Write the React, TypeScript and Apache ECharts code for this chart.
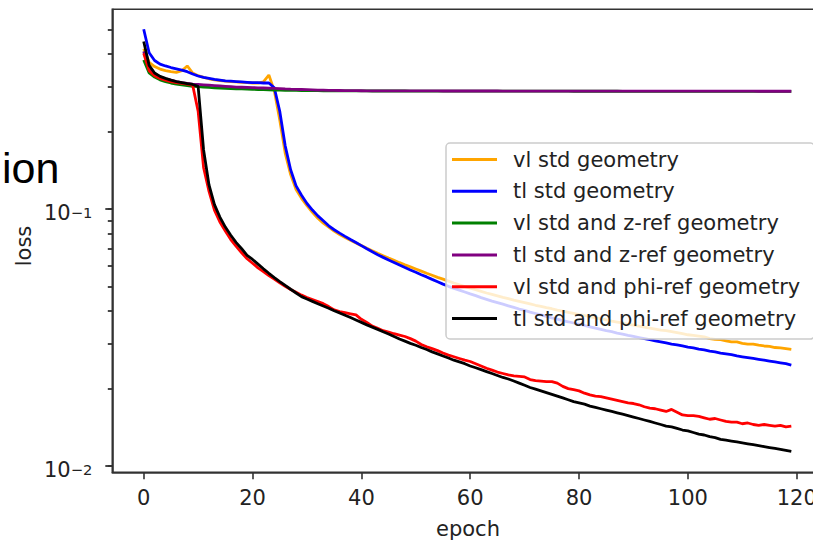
import React, { useEffect, useRef } from 'react';
import * as echarts from 'echarts';

// epochs 0..119
const epochs = Array.from({ length: 120 }, (_, i) => i);

const vlStd = [
  0.420, 0.372, 0.358, 0.350, 0.345, 0.342, 0.340, 0.345, 0.360, 0.338,
  0.330, 0.325, 0.321, 0.318, 0.316, 0.314, 0.313, 0.312, 0.311, 0.310,
  0.309, 0.309, 0.312, 0.332, 0.288, 0.222, 0.165, 0.136, 0.119, 0.110,
  0.103, 0.097, 0.092, 0.088, 0.085, 0.082, 0.0795, 0.0775, 0.0755, 0.0737,
  0.0720, 0.0703, 0.0687, 0.0672, 0.0658, 0.0644, 0.0631, 0.0618, 0.0606, 0.0595,
  0.0584, 0.0573, 0.0562, 0.0552, 0.0542, 0.0533, 0.0524, 0.0515, 0.0507, 0.0499,
  0.0492, 0.0485, 0.0478, 0.0471, 0.0465, 0.0459, 0.0453, 0.0448, 0.0442, 0.0437,
  0.0432, 0.0427, 0.0422, 0.0418, 0.0413, 0.0409, 0.0404, 0.0400, 0.0396, 0.0392,
  0.0388, 0.0385, 0.0381, 0.0377, 0.0374, 0.0370, 0.0366, 0.0363, 0.0360, 0.0356,
  0.0353, 0.0350, 0.0347, 0.0344, 0.0341, 0.0338, 0.0336, 0.0333, 0.0330, 0.0327,
  0.0324, 0.0322, 0.0320, 0.0318, 0.0313, 0.0311, 0.0310, 0.0307, 0.0304, 0.0304,
  0.0300, 0.0298, 0.0298, 0.0295, 0.0293, 0.0292, 0.0289, 0.0288, 0.0286, 0.0284,
];

const tlStd = [
  0.500, 0.405, 0.378, 0.366, 0.360, 0.355, 0.351, 0.347, 0.342, 0.335,
  0.329, 0.325, 0.322, 0.319, 0.317, 0.315, 0.314, 0.313, 0.312, 0.311,
  0.310, 0.310, 0.309, 0.309, 0.296, 0.240, 0.176, 0.142, 0.123, 0.113,
  0.105, 0.099, 0.094, 0.090, 0.086, 0.083, 0.0805, 0.0782, 0.0760, 0.0740,
  0.0720, 0.0700, 0.0681, 0.0664, 0.0648, 0.0633, 0.0619, 0.0605, 0.0592, 0.0579,
  0.0567, 0.0555, 0.0544, 0.0532, 0.0521, 0.0510, 0.0500, 0.0491, 0.0483, 0.0475,
  0.0467, 0.0460, 0.0452, 0.0445, 0.0438, 0.0432, 0.0426, 0.0420, 0.0414, 0.0408,
  0.0403, 0.0397, 0.0392, 0.0387, 0.0382, 0.0377, 0.0373, 0.0368, 0.0364, 0.0360,
  0.0356, 0.0352, 0.0348, 0.0344, 0.0340, 0.0336, 0.0333, 0.0329, 0.0326, 0.0322,
  0.0319, 0.0316, 0.0313, 0.0310, 0.0307, 0.0304, 0.0301, 0.0298, 0.0296, 0.0293,
  0.0290, 0.0288, 0.0285, 0.0283, 0.0280, 0.0278, 0.0275, 0.0273, 0.0271, 0.0268,
  0.0266, 0.0264, 0.0262, 0.0260, 0.0258, 0.0256, 0.0254, 0.0252, 0.0250, 0.0247,
];

const vlStdZ = [
  0.380, 0.338, 0.326, 0.318, 0.313, 0.309, 0.306, 0.304, 0.302, 0.300,
  0.299, 0.298, 0.297, 0.296, 0.295, 0.2945, 0.294, 0.2935, 0.293, 0.2925,
  0.292, 0.2915, 0.291, 0.2905, 0.290, 0.2898, 0.2895, 0.2893, 0.289, 0.2888,
  0.2886, 0.2885, 0.2884, 0.2883, 0.2882, 0.2881, 0.2880, 0.2880, 0.2879, 0.2879,
  0.2878, 0.2878, 0.2877, 0.2877, 0.2877, 0.2876, 0.2876, 0.2876, 0.2876, 0.2875,
  0.2875, 0.2875, 0.2875, 0.2874, 0.2874, 0.2874, 0.2874, 0.2874, 0.2873, 0.2873,
  0.2873, 0.2873, 0.2873, 0.2873, 0.2872, 0.2872, 0.2872, 0.2872, 0.2872, 0.2872,
  0.2872, 0.2871, 0.2871, 0.2871, 0.2871, 0.2871, 0.2871, 0.2871, 0.2871, 0.2870,
  0.2870, 0.2870, 0.2870, 0.2870, 0.2870, 0.2870, 0.2870, 0.2870, 0.2869, 0.2869,
  0.2869, 0.2869, 0.2869, 0.2869, 0.2869, 0.2869, 0.2869, 0.2869, 0.2868, 0.2868,
  0.2868, 0.2868, 0.2868, 0.2868, 0.2868, 0.2868, 0.2868, 0.2868, 0.2868, 0.2868,
  0.2867, 0.2867, 0.2867, 0.2867, 0.2867, 0.2867, 0.2867, 0.2867, 0.2867, 0.2867,
];

const tlStdZ = [
  0.410, 0.352, 0.336, 0.327, 0.321, 0.317, 0.313, 0.310, 0.308, 0.306,
  0.305, 0.304, 0.303, 0.302, 0.301, 0.300, 0.299, 0.298, 0.2975, 0.297,
  0.2965, 0.296, 0.2955, 0.295, 0.2945, 0.294, 0.2932, 0.2925, 0.292, 0.2915,
  0.291, 0.2905, 0.290, 0.2897, 0.2894, 0.2891, 0.2889, 0.2887, 0.2885, 0.2884,
  0.2883, 0.2882, 0.2882, 0.2881, 0.2881, 0.2880, 0.2880, 0.2880, 0.2879, 0.2879,
  0.2879, 0.2878, 0.2878, 0.2878, 0.2878, 0.2877, 0.2877, 0.2877, 0.2877, 0.2877,
  0.2876, 0.2876, 0.2876, 0.2876, 0.2876, 0.2876, 0.2875, 0.2875, 0.2875, 0.2875,
  0.2875, 0.2875, 0.2875, 0.2874, 0.2874, 0.2874, 0.2874, 0.2874, 0.2874, 0.2874,
  0.2874, 0.2873, 0.2873, 0.2873, 0.2873, 0.2873, 0.2873, 0.2873, 0.2873, 0.2873,
  0.2872, 0.2872, 0.2872, 0.2872, 0.2872, 0.2872, 0.2872, 0.2872, 0.2872, 0.2872,
  0.2872, 0.2871, 0.2871, 0.2871, 0.2871, 0.2871, 0.2871, 0.2871, 0.2871, 0.2871,
  0.2871, 0.2871, 0.2871, 0.2870, 0.2870, 0.2870, 0.2870, 0.2870, 0.2870, 0.2870,
];

const vlStdPhi = [
  0.403, 0.345, 0.330, 0.322, 0.317, 0.313, 0.310, 0.308, 0.306, 0.303,
  0.240, 0.145, 0.117, 0.099, 0.089, 0.082, 0.076, 0.0715, 0.0675, 0.064,
  0.0615, 0.059, 0.057, 0.055, 0.0533, 0.0516, 0.0500, 0.0486, 0.0474, 0.0462,
  0.0452, 0.0444, 0.0436, 0.0428, 0.0417, 0.0405, 0.0399, 0.0395, 0.0391, 0.0387,
  0.0372, 0.0362, 0.0350, 0.0343, 0.0336, 0.0332, 0.0327, 0.0323, 0.0319, 0.0313,
  0.0306, 0.0297, 0.0291, 0.0286, 0.0281, 0.0275, 0.0270, 0.0266, 0.0262, 0.0258,
  0.0255, 0.0250, 0.0245, 0.0240, 0.0236, 0.0232, 0.0229, 0.0226, 0.0224, 0.0223,
  0.0222, 0.0217, 0.0215, 0.0214, 0.0213, 0.0213, 0.0210, 0.0204, 0.0200, 0.0198,
  0.0196, 0.0192, 0.0189, 0.0187, 0.0186, 0.0184, 0.0182, 0.0180, 0.0178, 0.0176,
  0.0175, 0.0173, 0.0170, 0.0168, 0.0167, 0.0165, 0.0163, 0.0166, 0.0162, 0.0158,
  0.0157, 0.0157, 0.0156, 0.0154, 0.0152, 0.0153, 0.0151, 0.0149, 0.0148, 0.0148,
  0.0146, 0.0147, 0.0145, 0.0144, 0.0145, 0.0144, 0.0143, 0.0144, 0.0142, 0.0143,
];

const tlStdPhi = [
  0.448, 0.362, 0.338, 0.328, 0.322, 0.317, 0.313, 0.310, 0.307, 0.305,
  0.300, 0.170, 0.124, 0.104, 0.093, 0.085, 0.079, 0.074, 0.070, 0.066,
  0.0636, 0.0610, 0.0585, 0.0562, 0.0541, 0.0522, 0.0504, 0.0487, 0.0471, 0.0456,
  0.0446, 0.0437, 0.0428, 0.0419, 0.0411, 0.0402, 0.0394, 0.0386, 0.0378, 0.0370,
  0.0362, 0.0354, 0.0347, 0.0340, 0.0333, 0.0326, 0.0319, 0.0312, 0.0306, 0.0300,
  0.0295, 0.0289, 0.0284, 0.0278, 0.0273, 0.0268, 0.0263, 0.0258, 0.0254, 0.0250,
  0.0245, 0.0241, 0.0237, 0.0233, 0.0229, 0.0225, 0.0221, 0.0218, 0.0214, 0.0210,
  0.0206, 0.0202, 0.0199, 0.0196, 0.0193, 0.0190, 0.0187, 0.0184, 0.0181, 0.0178,
  0.0176, 0.0174, 0.0171, 0.0169, 0.0167, 0.0165, 0.0163, 0.0161, 0.0159, 0.0157,
  0.0155, 0.0153, 0.0151, 0.0149, 0.0147, 0.0145, 0.0143, 0.0142, 0.0140, 0.0138,
  0.0137, 0.0135, 0.0133, 0.0132, 0.0130, 0.0129, 0.0127, 0.0126, 0.0125, 0.0124,
  0.0123, 0.0122, 0.0121, 0.0120, 0.0119, 0.0118, 0.0117, 0.0116, 0.0115, 0.0114,
];

const seriesNames = [
  'vl std geometry',
  'tl std geometry',
  'vl std and z-ref geometry',
  'tl std and z-ref geometry',
  'vl std and phi-ref geometry',
  'tl std and phi-ref geometry',
];
const seriesValues = [vlStd, tlStd, vlStdZ, tlStdZ, vlStdPhi, tlStdPhi];
const seriesColors = ['#FFA500', '#0000FF', '#008000', '#800080', '#FF0000', '#000000'];

const xTickValues = [0, 20, 40, 60, 80, 100, 120];
const yMajorTicks = [0.01, 0.1];
const yMinorTicks = [0.02, 0.03, 0.04, 0.05, 0.06, 0.07, 0.08, 0.09, 0.2, 0.3, 0.4, 0.5];

const X_MIN = -5.77;
const X_MAX = 124.95;
const Y_MIN = 0.00945;
const Y_MAX = 0.598;

const FONT = 'DejaVu Sans';
const TEXT = '#222222';
const AXIS = '#333333';

// helper axis (linear in log10 space, same extent as the log axis) that only carries tick marks
const tickAxis = (values: number[], len: number, width: number) => ({
  type: 'value',
  gridIndex: 0,
  position: 'left',
  offset: 0,
  min: Math.log10(Y_MIN),
  max: Math.log10(Y_MAX),
  axisLine: { show: false, onZero: false },
  axisLabel: { show: false },
  splitLine: { show: false },
  axisTick: {
    show: true,
    inside: false,
    length: len,
    customValues: values.map((v) => Math.log10(v)),
    lineStyle: { color: AXIS, width },
  },
});

export default function App() {
  const ref = useRef<HTMLDivElement>(null);

  useEffect(() => {
    if (!ref.current) return;
    const chart = echarts.init(ref.current, null, { renderer: 'svg' });

    const lineSeries = seriesValues.map((arr, k) => ({
      name: seriesNames[k],
      type: 'line',
      yAxisIndex: 0,
      data: epochs.map((e, i) => [e, arr[i]]),
      showSymbol: false,
      symbol: 'none',
      lineStyle: { color: seriesColors[k], width: 2.8 },
      itemStyle: { color: seriesColors[k] },
      emphasis: { disabled: true },
    }));

    chart.setOption({
      animation: false,
      backgroundColor: '#ffffff',
      grid: {
        left: 112.3,
        top: 9.3,
        right: -10.7,
        bottom: 68.7,
        outerBoundsMode: 'none',
        containLabel: false,
        show: true,
        borderColor: AXIS,
        borderWidth: 1.6,
        backgroundColor: 'transparent',
      },
      xAxis: {
        type: 'value',
        min: X_MIN,
        max: X_MAX,
        name: 'epoch',
        nameLocation: 'middle',
        nameGap: 46,
        nameTextStyle: { fontFamily: FONT, fontSize: 21, color: TEXT },
        axisLine: { show: true, onZero: false, lineStyle: { color: AXIS, width: 1.6 } },
        axisTick: { show: true, length: 7, customValues: xTickValues, lineStyle: { color: AXIS, width: 1.6 } },
        axisLabel: { customValues: xTickValues, fontFamily: FONT, fontSize: 21, color: TEXT, margin: 15 },
        splitLine: { show: false },
      },
      yAxis: [
        {
          type: 'log',
          logBase: 10,
          min: Y_MIN,
          max: Y_MAX,
          position: 'left',
          axisLine: { show: true, onZero: false, lineStyle: { color: AXIS, width: 1.6 } },
          axisTick: { show: false },
          minorTick: { show: false },
          splitLine: { show: false },
          axisLabel: {
            margin: 20,
            formatter: (v: number) => {
              const l = Math.log10(v);
              const r = Math.round(l);
              if (Math.abs(l - r) > 1e-6) return '';
              return `{b|10}{s|\u2212${-r}}`;
            },
            rich: {
              b: { fontFamily: FONT, fontSize: 21, color: TEXT, lineHeight: 24, padding: [8, 0, 0, 0] },
              s: { fontFamily: FONT, fontSize: 14.7, color: TEXT, lineHeight: 15, verticalAlign: 'top', padding: [8, 0, 0, 0] },
            },
          },
        },
        tickAxis([...yMajorTicks, ...yMinorTicks], 4.5, 1.8),
        tickAxis(yMajorTicks, 7, 1.8),
      ],
      legend: {
        data: seriesNames,
        orient: 'vertical',
        left: 446,
        top: 143,
        padding: [6, 14, 10, 6],
        itemGap: 10.8,
        itemWidth: 45,
        itemHeight: 3,
        icon: 'rect',
        selectedMode: false,
        backgroundColor: 'rgba(255,255,255,0.8)',
        borderColor: '#cccccc',
        borderWidth: 1.5,
        borderRadius: 4,
        textStyle: { fontFamily: FONT, fontSize: 21, color: TEXT, lineHeight: 20, padding: [0, 0, 0, 11] },
      },
      graphic: [
        {
          type: 'text',
          x: 2,
          y: 168,
          style: {
            text: 'ion',
            fontFamily: 'Liberation Sans',
            fontSize: 43,
            fill: '#000000',
            align: 'left',
            verticalAlign: 'middle',
          },
        },
        {
          type: 'text',
          x: 23.5,
          y: 246,
          rotation: Math.PI / 2,
          style: {
            text: 'loss',
            fontFamily: FONT,
            fontSize: 21,
            fill: TEXT,
            align: 'center',
            verticalAlign: 'middle',
          },
        },
      ],
      series: lineSeries,
    });

    return () => chart.dispose();
  }, []);

  return (
    <div
      ref={ref}
      style={{ position: 'fixed', left: 0, top: 0, width: 813, height: 541, background: '#fff' }}
    />
  );
}
